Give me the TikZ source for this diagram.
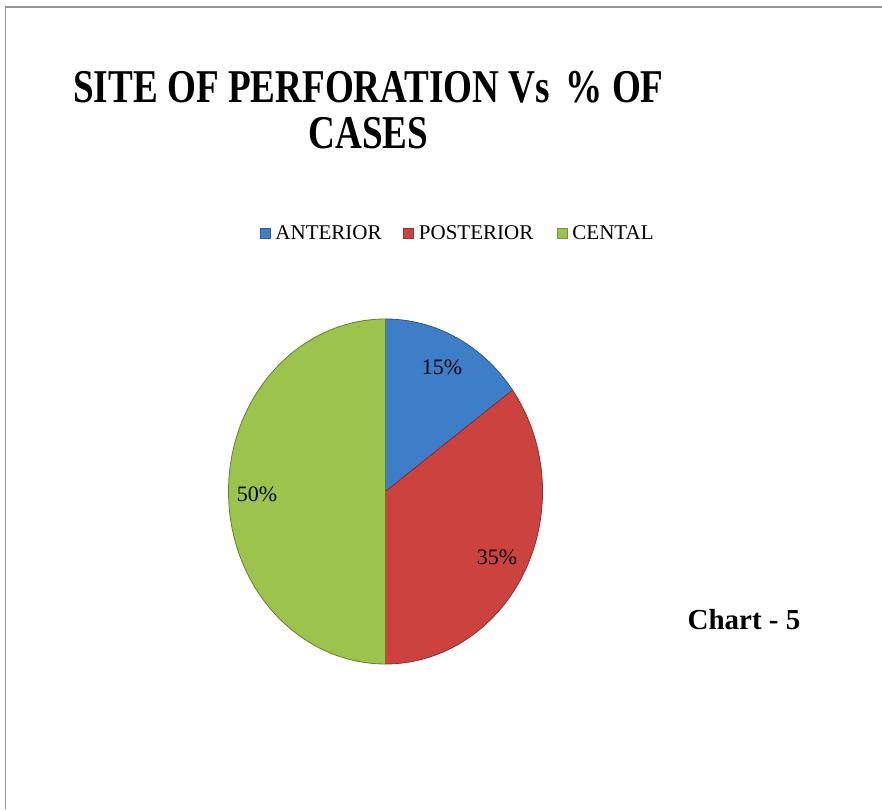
\documentclass[tikz,border=0pt]{standalone}
\usepackage{fontspec}
\setmainfont{Liberation Serif}
\usetikzlibrary{positioning}
\definecolor{anterior blue}{RGB}{62,125,200}
\definecolor{posterior red}{RGB}{204,66,62}
\definecolor{central green}{RGB}{156,196,76}
\definecolor{frame grey}{RGB}{150,150,150}
\tikzstyle{frame}=[draw=frame grey, line width=1.6pt]
\tikzstyle{chart title}=[inner sep=0, font=\fontsize{47}{47}\selectfont\bfseries]
\tikzstyle{chart note}=[inner sep=0, font=\fontsize{29}{29}\selectfont\bfseries]
\tikzstyle{legend key}=[minimum size=10pt, inner sep=0, line width=0.5pt]
\tikzstyle{legend text}=[inner sep=0, font=\fontsize{21}{21}\selectfont]
\tikzstyle{slice}=[line width=0.8pt, line join=round]
\tikzstyle{slice label}=[inner sep=0, font=\fontsize{22}{22}\selectfont]

\begin{document}
\begin{tikzpicture}[x=1pt, y=1pt]
      \useasboundingbox (0, 0) rectangle (882, 809);

      \coordinate (frame_top_right) at (882, 802);
      \coordinate (frame_corner) at (5.5, 802);
      \coordinate (frame_bottom_left) at (5.5, 0);
      \draw[frame] (frame_top_right) -- (frame_corner) -- (frame_bottom_left);

      \node[chart title] (title_top) at (368.5, 721.5)
        {\scalebox{0.79}[1]{SITE OF PERFORATION Vs \,\% OF}};
      \node[chart title, below=14pt of title_top] (title_bottom)
        {\scalebox{0.79}[1]{CASES}};

      \node[legend key, fill=anterior blue, draw=anterior blue!75!black] (key_anterior) at (265, 576) {};
      \node[legend text, right=5pt of key_anterior] (text_anterior) {ANTERIOR};
      \node[legend key, fill=posterior red, draw=posterior red!75!black] (key_posterior) at (408.5, 576) {};
      \node[legend text, right=5pt of key_posterior] (text_posterior) {POSTERIOR};
      \node[legend key, fill=central green, draw=central green!75!black] (key_central) at (562, 576) {};
      \node[legend text, right=5pt of key_central] (text_central) {CENTAL};

      \coordinate (pie_centre) at (385.5, 317.5);
      \filldraw[slice, fill=anterior blue, draw=anterior blue!70!black] (pie_centre)
        -- ++(0, 172.5)
        arc[start angle=90, end angle=36, x radius=157pt, y radius=172.5pt] -- cycle;
      \filldraw[slice, fill=posterior red, draw=posterior red!70!black] (pie_centre)
        -- ++({157*cos(36)}, {172.5*sin(36)})
        arc[start angle=36, end angle=-90, x radius=157pt, y radius=172.5pt] -- cycle;
      \filldraw[slice, fill=central green, draw=central green!65!black] (pie_centre)
        -- ++(0, -172.5)
        arc[start angle=-90, end angle=-270, x radius=157pt, y radius=172.5pt] -- cycle;

      \node[slice label] (label_anterior) at (442, 442) {15\%};
      \node[slice label] (label_posterior) at (497, 252) {35\%};
      \node[slice label] (label_central) at (257, 315) {50\%};

      \node[chart note] (chart_number) at (744, 189) {Chart - 5};
    \end{tikzpicture}
\end{document}
